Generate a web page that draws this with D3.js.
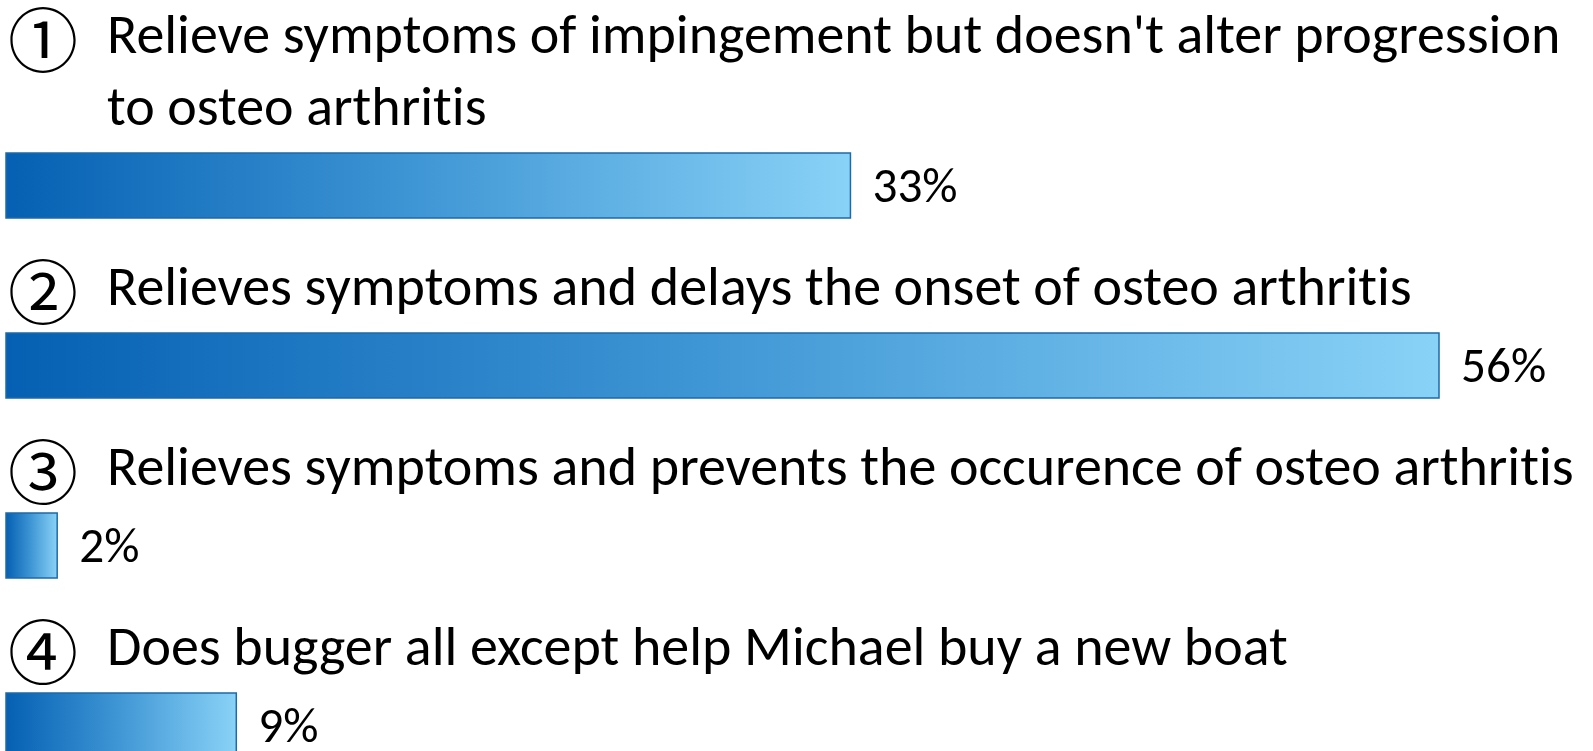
<!DOCTYPE html>
<html>
<head>
<meta charset="utf-8">
<script src="https://cdn.jsdelivr.net/npm/d3@7"></script>
<style>
  html, body { margin: 0; padding: 0; background: #fff; overflow: hidden; }
  text { fill: #000; font-variant-ligatures: none; }
</style>
</head>
<body>
<div id="chart"></div>
<script>
// poll answers
var markers = ['\u2460', '\u2461', '\u2462', '\u2463'];
var answers = [
  ["Relieve symptoms of impingement but doesn't alter progression", 'to osteo arthritis'],
  ['Relieves symptoms and delays the onset of osteo arthritis'],
  ['Relieves symptoms and prevents the occurence of osteo arthritis'],
  ['Does bugger all except help Michael buy a new boat']
];
var percents = [33, 56, 2, 9];

var width = 1593, height = 751;
var fontStack = 'Carlito, Calibri, Lato, sans-serif';

var svg = d3.select('#chart').append('svg')
    .attr('width', width)
    .attr('height', height);

var defs = svg.append('defs');
var grad = defs.append('linearGradient')
    .attr('id', 'barfill')
    .attr('x1', '0%').attr('x2', '100%')
    .attr('y1', '0%').attr('y2', '0%');
grad.append('stop').attr('offset', '0%').attr('stop-color', '#0560b3');
grad.append('stop').attr('offset', '45%').attr('stop-color', '#3a92d2');
grad.append('stop').attr('offset', '100%').attr('stop-color', '#89d2f7');

var x = d3.scaleLinear()
    .domain([0, d3.max(percents)])
    .range([6, 1439]);

// top edge of each bar
var y = d3.scalePoint()
    .domain(d3.range(percents.length))
    .range([153, 693]);

var barHeight = 65;
var lineHeight = 72;
var fontSize = 46;

var group = svg.selectAll('g.answer')
  .data(percents)
  .enter().append('g')
    .attr('class', 'answer');

group.append('rect')
    .attr('x', x(0))
    .attr('y', function(d, i) { return y(i); })
    .attr('width', function(d) { return x(d) - x(0); })
    .attr('height', barHeight)
    .attr('fill', 'url(#barfill)')
    .attr('stroke', '#1c6aa6')
    .attr('stroke-width', 1.5);

group.append('text')
    .attr('class', 'pct')
    .attr('x', function(d) { return x(d) + 22; })
    .attr('y', function(d, i) { return y(i) + 49; })
    .style('font-family', fontStack)
    .style('font-size', fontSize + 'px')
    .text(function(d) { return d + '%'; });

// first baseline of each title
function firstBaseline(i) {
  return y(i) - 28 - (answers[i].length - 1) * lineHeight;
}

group.append('text')
    .attr('class', 'title')
    .attr('x', 107)
    .attr('y', function(d, i) { return firstBaseline(i); })
    .style('font-family', fontStack)
    .style('font-size', fontSize + 'px')
    .selectAll('tspan')
    .data(function(d, i) { return answers[i]; })
    .enter().append('tspan')
      .attr('x', 107)
      .attr('dy', function(d, j) { return j ? lineHeight : 0; })
      .text(function(d) { return d; });

group.append('text')
    .attr('class', 'marker')
    .attr('x', 43)
    .attr('y', function(d, i) { return firstBaseline(i) - 17; })
    .attr('text-anchor', 'middle')
    .attr('dominant-baseline', 'central')
    .style('font-family', '"Noto Sans CJK JP", sans-serif')
    .style('font-size', '70px')
    .text(function(d, i) { return markers[i]; });

// fit the font so the longest title line spans like the original
var probe = svg.selectAll('text.title').filter(function(d, i) { return i === 2; }).node();
var w = probe.getComputedTextLength();
var fitted = fontSize * 1467 / w;
svg.selectAll('text.title').style('font-size', fitted + 'px');
svg.selectAll('text.pct').style('font-size', (fitted * 0.88) + 'px');
</script>
</body>
</html>
